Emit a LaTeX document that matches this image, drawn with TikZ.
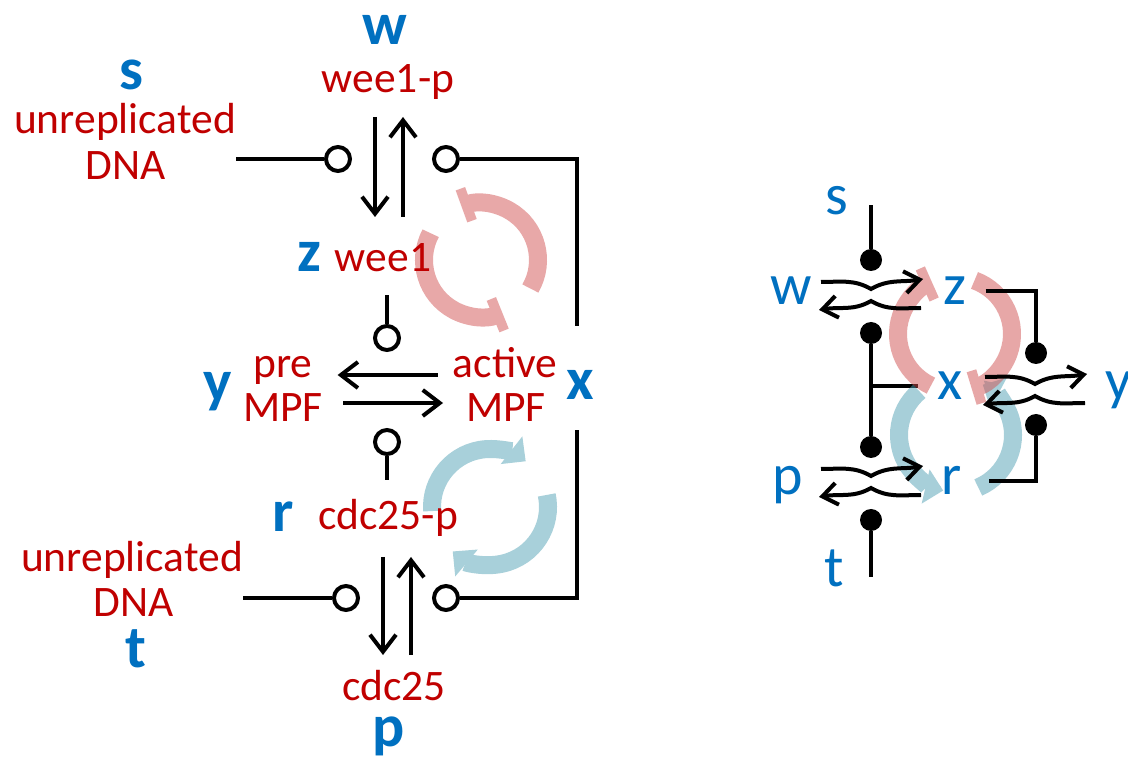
\documentclass[tikz,border=0pt]{standalone}
\usepackage{fontspec}
\setmainfont{Carlito}
\usetikzlibrary{arrows.meta,positioning}

\definecolor{specred}{RGB}{192,0,0}
\definecolor{varblue}{RGB}{0,112,192}
\definecolor{negpink}{RGB}{232,168,168}
\definecolor{posblue}{RGB}{168,208,218}
\definecolor{negdeep}{RGB}{209,81,81}
\definecolor{posdeep}{RGB}{81,161,181}

\pgfdeclarelayer{back}
\pgfsetlayers{back,main}

\tikzset{
  spec/.style={text=specred,inner sep=0pt,anchor=base,font=\fontsize{43.5}{46}\selectfont},
  var/.style={text=varblue,inner sep=0pt,anchor=base,font=\fontsize{60}{60}\selectfont\bfseries},
  varlight/.style={var,font=\fontsize{58}{58}\selectfont},
  wire/.style={line width=4pt},
  arr/.style={wire,-{Straight Barb[length=17pt,width=26pt]}},
  arrs/.style={wire,-{Straight Barb[length=15pt,width=22pt]}},
  inh/.style={circle,draw,line width=4pt,inner sep=0pt,minimum size=24pt},
  act/.style={circle,fill,inner sep=0pt,minimum size=22pt},
  negloop/.style={line width=18pt,-{Bar[width=34pt,line width=10pt]}},
  posloop/.style={line width=18pt,-{Triangle[width=34pt,length=18pt]}},
}

\begin{document}
\begin{tikzpicture}[x=1pt,y=1pt]
  \useasboundingbox (0,0) rectangle (1128,764);

  % left scheme: wee1 switch
  \node[var] (w) at (385,719) {w};
  \node[spec] (wp) at (388,671) {wee1-p};
  \node[var] (s) at (131,674) {s};
  \node[spec] (dnas1) at (125,630) {unreplicated};
  \node[spec] (dnas2) at (126,584) {DNA};
  \node[var] (z) at (309,492) {z};
  \node[spec] (we) at (383,492) {wee1};

  \draw[arr] ([xshift=-13pt,yshift=-24pt]wp.base) -- ++(0,-100);
  \draw[arr] ([xshift=15pt,yshift=-124pt]wp.base) -- ++(0,100);
  \node[inh] (i1) at (338,605) {};
  \node[inh] (i2) at (446,605) {};
  \draw[wire] (dnas1.east |- i1) -- (i1);

  % MPF
  \node[var] (y) at (218,362) {y};
  \node[spec] (pre) at (283,386) {pre};
  \node[spec] (mpf1) at (283,342) {MPF};
  \node[spec] (act) at (505,386) {active};
  \node[spec] (mpf2) at (506,342) {MPF};
  \node[var] (x) at (580,364) {x};
  \draw[arr] ([xshift=-15pt,yshift=3pt]act.base west) -- ++(-100,0);
  \draw[arr] ([xshift=20pt,yshift=19pt]mpf1.base east) -- ++(100,0);
  \node[inh] (i3) at (387,426) {};
  \node[inh] (i5) at (387,322) {};
  \draw[wire] (i3) -- ++(0,43);
  \draw[wire] (i5) -- ++(0,-38);
  \draw[wire] (i2) -| ([xshift=-3pt,yshift=45pt]x.north);

  % left scheme: cdc25 switch
  \node[var] (r) at (283,232) {r};
  \node[spec] (cp) at (388,234) {cdc25-p};
  \node[spec] (dnat1) at (132,192) {unreplicated};
  \node[spec] (dnat2) at (134,147) {DNA};
  \node[var] (t) at (136,97) {t};
  \node[spec] (c) at (394,64) {cdc25};
  \node[var] (p) at (389,18) {p};
  \node[inh] (i6) at (346,166) {};
  \node[inh] (i4) at (446,166) {};
  \draw[wire] (dnat1.east |- i6) -- (i6);
  \draw[wire] (i4) -| ([xshift=-3pt,yshift=-30pt]x.south);
  \draw[arr] ([xshift=-5pt,yshift=-27pt]cp.base) -- ++(0,-98);
  \draw[arr] ([xshift=23pt,yshift=-125pt]cp.base) -- ++(0,98);

  % right scheme
  \coordinate (kw) at (871,469);
  \coordinate (ky) at (1035,374);
  \coordinate (kp) at (871,282);
  \node[varlight] (s2) at (837,549) {s};
  \node[varlight] (w2) at (791,459) {w};
  \node[varlight] (z2) at (955,459) {z};
  \node[varlight] (x2) at (950,364) {x};
  \node[varlight] (y2) at (1119,364) {y};
  \node[varlight] (r2) at (952,269) {r};
  \node[varlight] (p2) at (788,269) {p};
  \node[varlight] (t2) at (834,177) {t};

  \node[act] (d1) at ([yshift=35pt]kw) {};
  \node[act] (d2) at ([yshift=-38pt]kw) {};
  \node[act] (d4) at ([shift={(1,37)}]ky) {};
  \node[act] (d5) at ([shift={(1,-35)}]ky) {};
  \node[act] (d3) at ([yshift=35pt]kp) {};
  \node[act] (d6) at ([yshift=-38pt]kp) {};

  \draw[wire] (d1) -- ++(0,55);
  \draw[wire] (d6) -- ++(0,-57);
  \draw[wire] (d2) -- (d3);
  \draw[wire] ([xshift=19pt]z2.east) -| (d4);
  \draw[wire] (d5) |- ([xshift=27pt]r2.east);

  % forward and backward steps of each switch
  \foreach \k in {kw,ky,kp} {
    \draw[arrs] ([shift={(-50,13)}]\k) to[out=0,in=150] ([shift={(0,6)}]\k)
      to[out=30,in=190] ([shift={(52,16)}]\k);
    \draw[arrs] ([shift={(50,-13)}]\k) to[out=180,in=-30] ([shift={(0,-6)}]\k)
      to[out=210,in=10] ([shift={(-52,-15)}]\k);
  }

  \begin{pgfonlayer}{back}
    \fill[white] (0,0) rectangle (1128,764);
    % feedback loops, left scheme
    \draw[negloop,draw=negpink] (481,504) ++(-30:57) arc[start angle=-30,end angle=110,radius=57];
    \draw[negloop,draw=negpink] (481,504) ++(152:57) arc[start angle=152,end angle=292,radius=57];
    \draw[posloop,draw=posblue] (490,257) ++(184:58) arc[start angle=184,end angle=52,radius=58];
    \draw[posloop,draw=posblue] (490,257) ++(12:58) arc[start angle=12,end angle=-130,radius=58];
    % feedback loops, right scheme
    \draw[wire] (d2 |- x2.center) -- ([xshift=-19pt]x2.west);
    \begin{scope}[transparency group,opacity=0.5]
      \draw[posloop,draw=posdeep] (956,329) ++(130:57) arc[start angle=130,end angle=257,radius=57];
      \draw[posloop,draw=posdeep] (956,329) ++(-67:57) arc[start angle=-67,end angle=62,radius=57];
    \end{scope}
    \begin{scope}[transparency group,opacity=0.5]
      \draw[negloop,draw=negdeep] (955,430) ++(245:57) arc[start angle=245,end angle=114,radius=57];
      \draw[negloop,draw=negdeep] (955,430) ++(70:57) arc[start angle=70,end angle=-73,radius=57];
    \end{scope}
  \end{pgfonlayer}
\end{tikzpicture}
\end{document}
